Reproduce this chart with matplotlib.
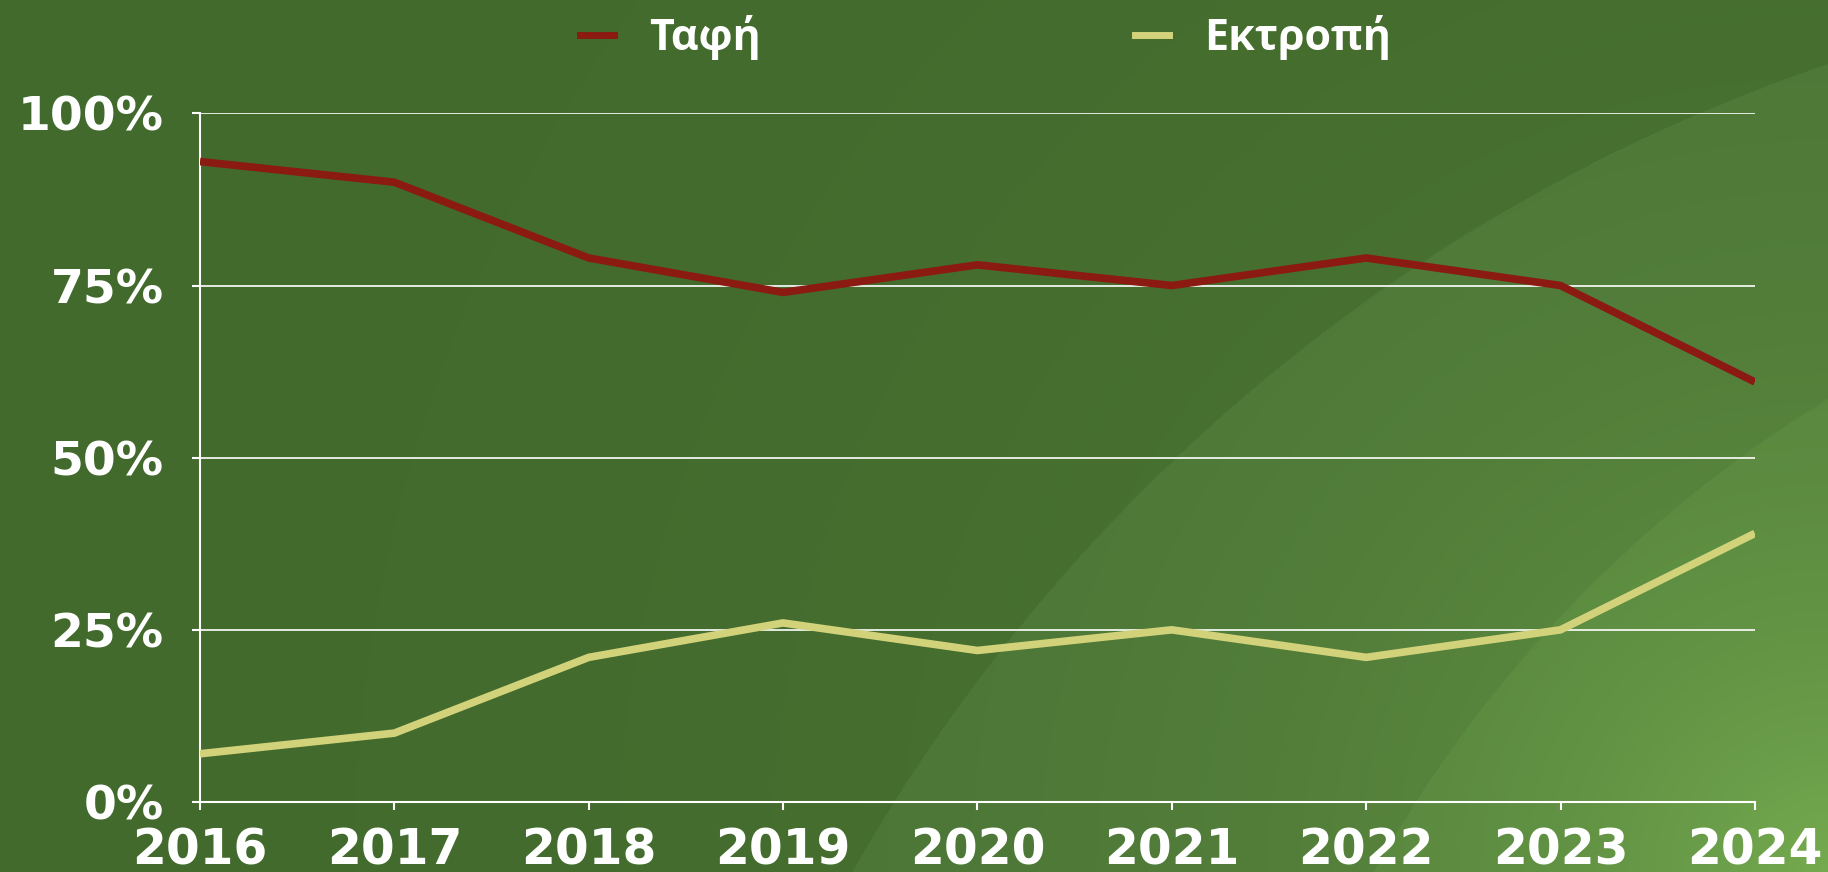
import numpy as np
import matplotlib.pyplot as plt
from matplotlib.lines import Line2D

years = [2016, 2017, 2018, 2019, 2020, 2021, 2022, 2023, 2024]
tafi = [93, 90, 79, 74, 78, 75, 79, 75, 61]
ektropi = [7, 10, 21, 26, 22, 25, 21, 25, 39]
y_ticks = [0, 25, 50, 75, 100]
y_labels = ["0%", "25%", "50%", "75%", "100%"]

red = "#8a1a12"
yellow = "#d2d27a"

W, H = 1828, 872
fig = plt.figure(figsize=(W / 100, H / 100), dpi=100)

# background: dark green with lighter sweeping curves to the lower right
yy, xx = np.mgrid[0:H, 0:W].astype(float)
base = np.array([0x42, 0x6a, 0x2d]) / 255.0
img = np.ones((H, W, 3)) * base
d1 = np.hypot(xx - 2400, yy - 1750)
img += (d1 < 1780)[..., None] * np.array([0.03, 0.035, 0.03])
d2 = np.hypot(xx - 2500, yy - 1500)
img += (d2 < 1290)[..., None] * np.array([0.02, 0.03, 0.015])
corner = np.exp(-np.hypot(xx - W, yy - H) / 380.0)
img += corner[..., None] * np.array([0.15, 0.19, 0.09])
img = np.clip(img, 0, 1)
bg = fig.add_axes([0, 0, 1, 1])
bg.imshow(img, aspect="auto", extent=[0, 1, 0, 1])
bg.axis("off")

ax = fig.add_axes([0.1094, 0.0803, 0.8506, 0.7897])
ax.patch.set_alpha(0)
ax.plot(years, tafi, color=red, lw=5.5, solid_capstyle="butt", zorder=3)
ax.plot(years, ektropi, color=yellow, lw=5.5, solid_capstyle="butt", zorder=3)

ax.set_xlim(2016, 2024)
ax.set_ylim(0, 100)
ax.set_xticks(years)
ax.set_yticks(y_ticks)
ax.set_yticklabels(y_labels)
ax.grid(axis="y", color="white", lw=1.2)
ax.set_axisbelow(True)
for s in ["top", "right"]:
    ax.spines[s].set_visible(False)
for s in ["left", "bottom"]:
    ax.spines[s].set_color("white")
    ax.spines[s].set_linewidth(1.5)
ax.tick_params(colors="white", length=6, width=1.5)
ax.tick_params(axis="x", pad=12, labelsize=35)
ax.tick_params(axis="y", pad=20, labelsize=34)
for lab in ax.get_xticklabels() + ax.get_yticklabels():
    lab.set_fontweight("bold")
    lab.set_color("white")

handles = [Line2D([], [], color=red, lw=5), Line2D([], [], color=yellow, lw=5)]
leg = fig.legend(handles, ["Ταφή", "Εκτροπή"], loc="center", bbox_to_anchor=(0.539, 0.957),
                 ncol=2, frameon=False, handlelength=0.8, handletextpad=0.8,
                 columnspacing=8.7, prop={"family": "Open Sans", "weight": "bold", "size": 31})
for t in leg.get_texts():
    t.set_color("white")

fig.savefig("out.png", dpi=100)
